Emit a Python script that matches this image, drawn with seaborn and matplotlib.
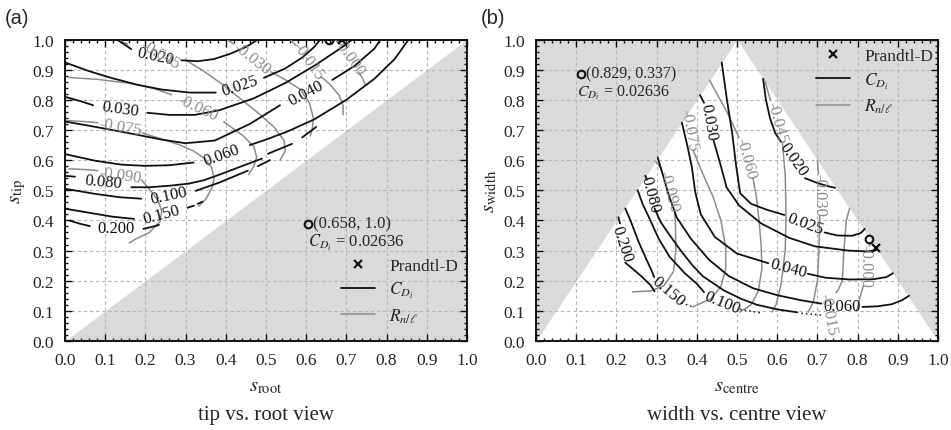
import matplotlib
matplotlib.use("Agg")
import matplotlib.pyplot as plt
from matplotlib.lines import Line2D
from matplotlib.ticker import MultipleLocator, FormatStrFormatter
import seaborn as sns

sns.set_theme(style="ticks")
plt.rcParams["font.family"] = ["Liberation Serif", "DejaVu Serif"]
plt.rcParams["mathtext.fontset"] = "stix"

BLACK = "#111111"
GREY = "#8c8c8c"

# ---------------- (a) tip vs. root: contour pieces ----------------
# each contour = list of pieces (gaps where the inline labels sit)
a_cd_020 = [[(0.129, 1.0), (0.150, 0.982), (0.165, 0.968)],
            [(0.29, 0.931), (0.33, 0.928), (0.37, 0.935), (0.41, 0.952), (0.45, 0.975), (0.48, 1.0)]]
a_cd_025 = [[(0.0, 0.924), (0.06, 0.895), (0.117, 0.872), (0.18, 0.85), (0.241, 0.834), (0.31, 0.824), (0.375, 0.824)],
            [(0.495, 0.873), (0.548, 0.904), (0.59, 0.94), (0.62, 0.975), (0.635, 1.0)]]
a_cd_030 = [[(0.0, 0.81), (0.04, 0.795), (0.07, 0.782)],
            [(0.205, 0.757), (0.26, 0.75), (0.323, 0.75), (0.383, 0.765), (0.47, 0.805), (0.55, 0.857),
             (0.625, 0.917), (0.69, 0.975), (0.715, 1.0)]]
a_cd_040 = [[(0.0, 0.728), (0.06, 0.714), (0.117, 0.70), (0.18, 0.684), (0.241, 0.668), (0.30, 0.656),
             (0.373, 0.665), (0.46, 0.72), (0.535, 0.782)],
            [(0.665, 0.866), (0.72, 0.912), (0.77, 0.97), (0.785, 1.0)]]
a_cd_060 = [[(0.0, 0.62), (0.075, 0.598), (0.14, 0.585), (0.199, 0.581), (0.26, 0.583), (0.32, 0.592)],
            [(0.46, 0.65), (0.50, 0.668), (0.552, 0.694), (0.62, 0.735), (0.70, 0.80), (0.77, 0.87),
             (0.82, 0.935), (0.855, 1.0)]]
a_cd_080 = [[(0.0, 0.548), (0.025, 0.545)],
            [(0.165, 0.51), (0.211, 0.51), (0.26, 0.515), (0.308, 0.522), (0.345, 0.533), (0.383, 0.551),
             (0.44, 0.58), (0.49, 0.605)],
            [(0.505, 0.621), (0.565, 0.654)],
            [(0.59, 0.675), (0.625, 0.71)]]
a_cd_100 = [[(0.0, 0.505), (0.075, 0.488), (0.135, 0.477), (0.19, 0.472)],
            [(0.325, 0.498), (0.383, 0.525), (0.455, 0.565)],
            [(0.48, 0.58), (0.51, 0.60)]]
a_cd_150 = [[(0.0, 0.439), (0.075, 0.422), (0.12, 0.412), (0.172, 0.405)],
            [(0.305, 0.442), (0.321, 0.449)],
            [(0.33, 0.455), (0.342, 0.462)]]
a_cd_200 = [[(0.012, 0.399), (0.04, 0.388), (0.062, 0.381)],
            [(0.195, 0.372), (0.215, 0.378), (0.234, 0.385)]]

a_rn_000 = [[(0.672, 1.0), (0.682, 0.985)],
            [(0.73, 0.892), (0.74, 0.872), (0.748, 0.848)]]
a_rn_015 = [[(0.56, 1.0), (0.575, 0.98)],
            [(0.637, 0.877), (0.66, 0.85), (0.682, 0.815), (0.692, 0.78), (0.692, 0.75)]]
a_rn_030 = [[(0.403, 1.0), (0.42, 0.985)],
            [(0.512, 0.893), (0.55, 0.865), (0.585, 0.835), (0.608, 0.79), (0.618, 0.74), (0.615, 0.70), (0.61, 0.68)]]
a_rn_045 = [[(0.13, 1.0), (0.155, 0.985)],
            [(0.30, 0.932), (0.345, 0.895), (0.391, 0.852), (0.44, 0.80), (0.48, 0.757), (0.52, 0.71),
             (0.545, 0.665), (0.548, 0.63), (0.535, 0.60)]]
a_rn_060 = [[(0.01, 0.874), (0.08, 0.868), (0.16, 0.855), (0.22, 0.838), (0.265, 0.817)],
            [(0.395, 0.727), (0.442, 0.682), (0.47, 0.645), (0.477, 0.61), (0.47, 0.58), (0.457, 0.553)]]
a_rn_075 = [[(0.005, 0.731), (0.06, 0.727), (0.082, 0.724)],
            [(0.192, 0.69), (0.24, 0.67), (0.284, 0.651), (0.32, 0.63), (0.348, 0.605), (0.365, 0.575),
             (0.371, 0.54), (0.365, 0.505), (0.35, 0.47), (0.333, 0.447)]]
a_rn_090 = [[(0.01, 0.571), (0.06, 0.568), (0.082, 0.565)],
            [(0.19, 0.535), (0.209, 0.505), (0.232, 0.465), (0.241, 0.43), (0.236, 0.395), (0.21, 0.36),
             (0.174, 0.337), (0.16, 0.325)]]

a_cd = [a_cd_020, a_cd_025, a_cd_030, a_cd_040, a_cd_060, a_cd_080, a_cd_100, a_cd_150, a_cd_200]
a_rn = [a_rn_000, a_rn_015, a_rn_030, a_rn_045, a_rn_060, a_rn_075, a_rn_090]

# inline labels: text, x, y, screen rotation, kind
a_labels = [("0.020", 0.224, 0.945, -12, "cd"), ("0.025", 0.435, 0.848, 18, "cd"),
            ("0.030", 0.138, 0.772, -8, "cd"), ("0.040", 0.60, 0.822, 28, "cd"),
            ("0.060", 0.39, 0.617, 20, "cd"), ("0.080", 0.095, 0.528, -5, "cd"),
            ("0.100", 0.258, 0.482, 12, "cd"), ("0.150", 0.239, 0.42, 15, "cd"),
            ("0.200", 0.128, 0.375, 0, "cd"),
            ("-0.045", 0.236, 0.952, -30, "rn"), ("-0.030", 0.465, 0.937, -38, "rn"),
            ("-0.015", 0.605, 0.93, -55, "rn"), ("-0.000", 0.706, 0.943, -55, "rn"),
            ("-0.060", 0.33, 0.775, -25, "rn"), ("-0.075", 0.137, 0.712, -10, "rn"),
            ("-0.090", 0.137, 0.551, -8, "rn")]

# ---------------- (b) width vs. centre ----------------
b_cd_020 = [[(0.565, 0.87), (0.572, 0.80), (0.582, 0.74), (0.595, 0.69), (0.61, 0.66)],
            [(0.669, 0.54), (0.70, 0.524), (0.725, 0.514), (0.744, 0.508)]]
b_cd_025 = [[(0.462, 0.924), (0.475, 0.80), (0.488, 0.69), (0.498, 0.58), (0.508, 0.49), (0.535, 0.455),
             (0.575, 0.435), (0.618, 0.418)],
            [(0.718, 0.36), (0.75, 0.35), (0.786, 0.349), (0.808, 0.358), (0.818, 0.372)]]
b_cd_030 = [[(0.408, 0.816), (0.418, 0.79)],
            [(0.442, 0.664), (0.46, 0.58), (0.474, 0.51), (0.505, 0.45), (0.56, 0.39), (0.63, 0.342),
             (0.694, 0.314), (0.776, 0.30), (0.825, 0.297), (0.848, 0.302)]]
b_cd_040 = [[(0.363, 0.724), (0.376, 0.651), (0.388, 0.575), (0.396, 0.495), (0.41, 0.42), (0.445, 0.345),
             (0.50, 0.29), (0.578, 0.258)],
            [(0.676, 0.223), (0.72, 0.21), (0.78, 0.204), (0.84, 0.205), (0.872, 0.212), (0.888, 0.225)]]
b_cd_060 = [[(0.303, 0.608), (0.318, 0.54), (0.33, 0.485), (0.35, 0.41), (0.385, 0.34), (0.43, 0.27),
             (0.48, 0.215), (0.54, 0.175), (0.60, 0.152), (0.66, 0.135), (0.71, 0.124)],
            [(0.812, 0.113), (0.85, 0.115), (0.885, 0.122), (0.91, 0.135), (0.928, 0.15)]]
b_cd_080 = [[(0.272, 0.548), (0.276, 0.535)],
            [(0.295, 0.44), (0.31, 0.395), (0.331, 0.354), (0.36, 0.30), (0.39, 0.25), (0.415, 0.215),
             (0.467, 0.168), (0.51, 0.14), (0.55, 0.12), (0.60, 0.105), (0.65, 0.095)]]
b_cd_100 = [[(0.253, 0.50), (0.265, 0.455), (0.28, 0.413), (0.305, 0.34), (0.332, 0.28), (0.37, 0.225),
             (0.40, 0.19), (0.418, 0.162)]]
b_cd_150 = [[(0.222, 0.44), (0.235, 0.40), (0.255, 0.33), (0.275, 0.27), (0.288, 0.232), (0.294, 0.212)]]
b_cd_200 = [[(0.205, 0.41), (0.209, 0.39)],
            [(0.222, 0.26), (0.24, 0.24), (0.262, 0.215), (0.285, 0.185), (0.295, 0.165)]]
# dotted ends near the bottom of the triangle
b_cd_tails = [[(0.66, 0.092), (0.71, 0.086)], [(0.508, 0.105), (0.56, 0.093)], [(0.362, 0.127), (0.39, 0.113)]]

b_rn_000 = [[(0.836, 0.33), (0.829, 0.316)],
            [(0.815, 0.185), (0.805, 0.14), (0.798, 0.10)]]
b_rn_015 = [[(0.78, 0.44), (0.772, 0.40), (0.766, 0.30), (0.762, 0.20), (0.752, 0.17), (0.746, 0.16)]]
b_rn_030 = [[(0.70, 0.60), (0.703, 0.555)],
            [(0.706, 0.415), (0.704, 0.30), (0.70, 0.20), (0.69, 0.13), (0.677, 0.096)]]
b_rn_045 = [[(0.57, 0.86), (0.583, 0.80)],
            [(0.613, 0.657), (0.62, 0.55), (0.622, 0.42), (0.62, 0.30), (0.61, 0.19), (0.597, 0.12), (0.587, 0.096)]]
b_rn_060 = [[(0.432, 0.865), (0.45, 0.82), (0.475, 0.76), (0.505, 0.675)],
            [(0.54, 0.54), (0.548, 0.48), (0.555, 0.40), (0.56, 0.32), (0.562, 0.24), (0.553, 0.165),
             (0.535, 0.12), (0.507, 0.096)]]
b_rn_075 = [[(0.392, 0.63), (0.41, 0.57), (0.44, 0.48), (0.46, 0.40), (0.472, 0.31), (0.472, 0.24),
             (0.46, 0.18), (0.435, 0.14), (0.39, 0.113)]]
b_rn_090 = [[(0.298, 0.595), (0.313, 0.568)],
            [(0.345, 0.435), (0.347, 0.38), (0.348, 0.30), (0.342, 0.23), (0.318, 0.183), (0.285, 0.166),
             (0.24, 0.163)]]

b_cd = [b_cd_020, b_cd_025, b_cd_030, b_cd_040, b_cd_060, b_cd_080, b_cd_100, b_cd_150, b_cd_200]
b_rn = [b_rn_000, b_rn_015, b_rn_030, b_rn_045, b_rn_060, b_rn_075, b_rn_090]

b_labels = [("0.030", 0.43, 0.728, -80, "cd"), ("0.020", 0.639, 0.605, -55, "cd"),
            ("0.025", 0.669, 0.39, -20, "cd"), ("0.040", 0.627, 0.243, -15, "cd"),
            ("0.060", 0.761, 0.116, 0, "cd"), ("0.080", 0.284, 0.487, -75, "cd"),
            ("0.100", 0.463, 0.13, -22, "cd"), ("0.150", 0.328, 0.165, -40, "cd"),
            ("0.200", 0.214, 0.325, -72, "cd"),
            ("-0.045", 0.598, 0.728, -75, "rn"), ("-0.060", 0.523, 0.607, -75, "rn"),
            ("-0.075", 0.38, 0.70, -80, "rn"), ("-0.090", 0.33, 0.50, -75, "rn"),
            ("-0.030", 0.706, 0.485, -90, "rn"), ("-0.015", 0.727, 0.09, -80, "rn"),
            ("-0.000", 0.82, 0.25, -90, "rn")]

# optimum and Prandtl-D points
a_opt = (0.658, 1.0)
a_prandtl = (0.69, 1.0)
b_opt = (0.829, 0.337)
b_prandtl = (0.845, 0.31)
cd_opt = 0.02636


def draw_piece(ax, pts, color, lw, ls="-"):
    xs = [p[0] for p in pts]
    ys = [p[1] for p in pts]
    sns.lineplot(x=xs, y=ys, sort=False, estimator=None, color=color, lw=lw,
                 linestyle=ls, ax=ax, legend=False, zorder=3)


def style_axes(ax):
    ax.set_xlim(0, 1)
    ax.set_ylim(0, 1)
    ax.xaxis.set_major_locator(MultipleLocator(0.1))
    ax.yaxis.set_major_locator(MultipleLocator(0.1))
    ax.xaxis.set_minor_locator(MultipleLocator(0.02))
    ax.yaxis.set_minor_locator(MultipleLocator(0.02))
    ax.xaxis.set_major_formatter(FormatStrFormatter("%.1f"))
    ax.yaxis.set_major_formatter(FormatStrFormatter("%.1f"))
    ax.tick_params(which="both", direction="in", top=True, right=True, labelsize=12.5,
                   color=BLACK, width=1.0, pad=8)
    ax.tick_params(which="major", length=5)
    ax.tick_params(which="minor", length=2.5)
    ax.set_axisbelow(True)
    ax.grid(True, which="major", ls=(0, (3, 2.5)), color="#b5b5b5", lw=0.8)
    for s in ax.spines.values():
        s.set_linewidth(1.4)
        s.set_color(BLACK)


def draw_panel(ax, cd, rn, labels, opt, prandtl):
    for c in rn:
        for piece in c:
            draw_piece(ax, piece, GREY, 1.1)
    for c in cd:
        for piece in c:
            draw_piece(ax, piece, BLACK, 1.3)
    for txt, x, y, rot, kind in labels:
        ax.text(x, y, txt, rotation=rot, rotation_mode="anchor", ha="center", va="center",
                fontsize=12, color=BLACK if kind == "cd" else GREY, zorder=4)
    ax.plot([opt[0]], [opt[1]], marker="o", ms=5.5, mfc="none", mec=BLACK, mew=1.5, ls="none", zorder=5)
    ax.plot([prandtl[0]], [prandtl[1]], marker="x", ms=5.5, mec=BLACK, mew=1.6, ls="none", zorder=5)


def add_legend(ax, anchor):
    handles = [Line2D([], [], ls="none", marker="x", color=BLACK, ms=5.5, mew=1.6),
               Line2D([], [], color=BLACK, lw=1.3),
               Line2D([], [], color=GREY, lw=1.1)]
    ax.legend(handles, ["Prandtl-D", r"$C_{D_i}$", r"$R_{n/\ell}$"], loc="center",
              bbox_to_anchor=anchor, frameon=False, fontsize=12.5, handlelength=2.0,
              handletextpad=0.8, labelspacing=0.35)


fig = plt.figure(figsize=(9.51, 4.31), dpi=100)
ax_a = fig.add_axes([0.0683, 0.2065, 0.4227, 0.6995])
ax_b = fig.add_axes([0.5636, 0.2065, 0.4227, 0.6995])

shade = "#d9dadc"
diag_x = [0.0, 1.0]
ax_a.fill_between(diag_x, [0.0, 0.0], diag_x, color=shade, lw=0, zorder=0.3)
tri_x = [0.0, 0.5, 1.0]
ax_b.fill_between(tri_x, [0.0, 1.0, 0.0], [1.0, 1.0, 1.0], color=shade, lw=0, zorder=0.3)

for ax in (ax_a, ax_b):
    style_axes(ax)

draw_panel(ax_a, a_cd, a_rn, a_labels, a_opt, a_prandtl)
draw_panel(ax_b, b_cd, b_rn, b_labels, b_opt, b_prandtl)
for piece in b_cd_tails:
    draw_piece(ax_b, piece, BLACK, 1.1, ls=(0, (1, 2)))

# optimum annotations
ax_a.plot([0.604], [0.389], marker="o", ms=5.5, mfc="none", mec=BLACK, mew=1.5, ls="none")
ax_a.text(0.617, 0.389, f"({a_opt[0]:.3f}, {a_opt[1]:.1f})", fontsize=12, va="center", ha="left")
ax_a.text(0.604, 0.327, rf"$C_{{D_i}}$ = {cd_opt:.5f}", fontsize=12, va="center", ha="left")
ax_b.plot([0.112], [0.886], marker="o", ms=5.5, mfc="none", mec=BLACK, mew=1.5, ls="none")
ax_b.text(0.125, 0.886, f"({b_opt[0]:.3f}, {b_opt[1]:.3f})", fontsize=11.5, va="center", ha="left")
ax_b.text(0.102, 0.826, rf"$C_{{D_i}}$ = {cd_opt:.5f}", fontsize=11.5, va="center", ha="left")

add_legend(ax_a, (0.832, 0.165))
add_legend(ax_b, (0.842, 0.86))

ax_a.set_xlabel(r"$s_{\mathrm{root}}$", fontsize=15, labelpad=6)
ax_a.set_ylabel(r"$s_{\mathrm{tip}}$", fontsize=15, labelpad=3)
ax_b.set_xlabel(r"$s_{\mathrm{centre}}$", fontsize=15, labelpad=6)
ax_b.set_ylabel(r"$s_{\mathrm{width}}$", fontsize=15, labelpad=3)

fig.text(0.0683 + 0.4227 / 2, 0.035, "tip vs. root view", ha="center", va="center", fontsize=15)
fig.text(0.5636 + 0.4227 / 2, 0.035, "width vs. centre view", ha="center", va="center", fontsize=15)
fig.text(0.005, 0.958, "(a)", ha="left", va="center", fontsize=14.5, family=["Liberation Sans", "DejaVu Sans"])
fig.text(0.506, 0.958, "(b)", ha="left", va="center", fontsize=14.5, family=["Liberation Sans", "DejaVu Sans"])

fig.savefig("out.png", dpi=100)
